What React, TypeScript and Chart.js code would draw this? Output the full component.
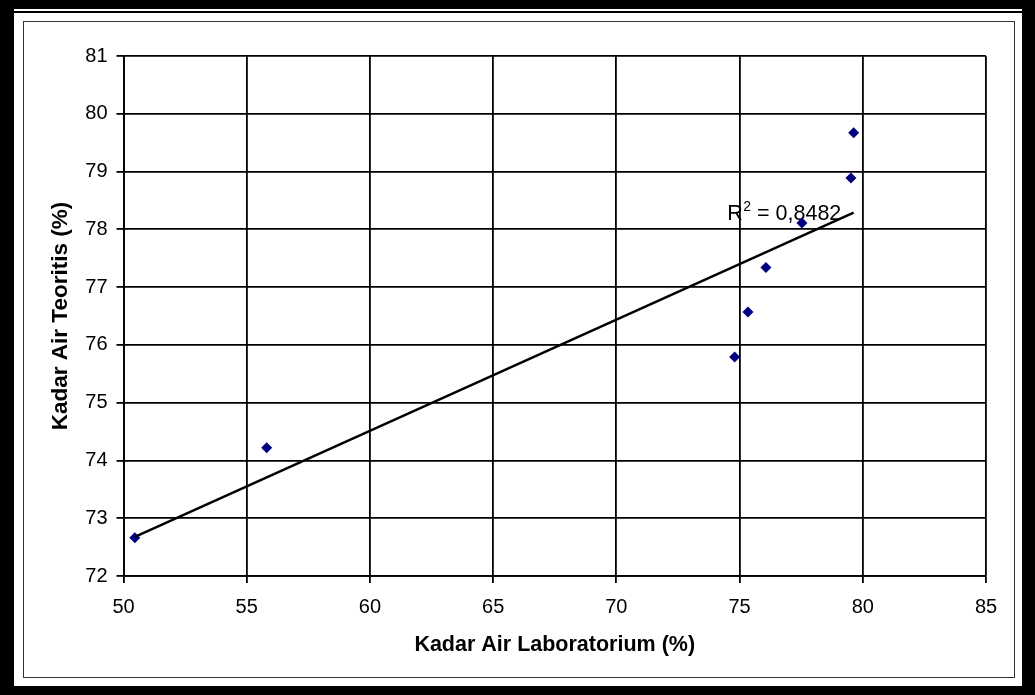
import React, { useEffect, useRef } from "react";
import { Chart, registerables } from "chart.js";

Chart.register(...registerables);

// ---- data ----
const kadarLab = [50.46, 55.81, 74.8, 75.34, 76.07, 77.53, 79.52, 79.63];
const kadarTeoritis = [72.66, 74.22, 75.79, 76.57, 77.34, 78.11, 78.89, 79.67];
const xTickValues = [50, 55, 60, 65, 70, 75, 80, 85];
const yTickValues = [72, 73, 74, 75, 76, 77, 78, 79, 80, 81];
const xAxisTitle = "Kadar Air Laboratorium (%)";
const yAxisTitle = "Kadar Air Teoritis (%)";
const r2Value = "0,8482";

const FONT = "'Liberation Sans', Arial, Helvetica, sans-serif";

function linearFit(xs: number[], ys: number[]) {
  const n = xs.length;
  const mx = xs.reduce((a, b) => a + b, 0) / n;
  const my = ys.reduce((a, b) => a + b, 0) / n;
  let sxy = 0, sxx = 0;
  for (let i = 0; i < n; i++) {
    sxy += (xs[i] - mx) * (ys[i] - my);
    sxx += (xs[i] - mx) * (xs[i] - mx);
  }
  const slope = sxy / sxx;
  return { slope, intercept: my - slope * mx };
}

const r2LabelPlugin = {
  id: "r2Label",
  beforeDatasetsDraw(chart: any) {
    const { ctx, scales } = chart;
    const x = scales.x.getPixelForValue(74.5);
    const y = scales.y.getPixelForValue(78.17);
    ctx.save();
    ctx.fillStyle = "#000";
    ctx.textBaseline = "alphabetic";
    ctx.textAlign = "left";
    ctx.font = `21.5px ${FONT}`;
    ctx.fillText("R", x, y);
    let cx = x + ctx.measureText("R").width;
    ctx.font = `14px ${FONT}`;
    ctx.fillText("2", cx + 0.5, y - 8.5);
    cx += ctx.measureText("2").width + 0.5;
    ctx.font = `21.5px ${FONT}`;
    ctx.fillText(" = " + r2Value, cx, y);
    ctx.restore();
  },
};

export default function App() {
  const ref = useRef<HTMLCanvasElement | null>(null);

  useEffect(() => {
    if (!ref.current) return;
    const { slope, intercept } = linearFit(kadarLab, kadarTeoritis);
    const minX = Math.min(...kadarLab);
    const maxX = Math.max(...kadarLab);
    const trend = [
      { x: minX, y: intercept + slope * minX },
      { x: maxX, y: intercept + slope * maxX },
    ];
    const points = kadarLab.map((x, i) => ({ x, y: kadarTeoritis[i] }));

    const chart = new Chart(ref.current, {
      type: "scatter",
      data: {
        datasets: [
          {
            label: "trend",
            data: trend,
            showLine: true,
            borderColor: "#000",
            borderWidth: 2.5,
            pointRadius: 0,
            pointHoverRadius: 0,
          },
          {
            label: "data",
            data: points,
            pointStyle: "rectRot",
            pointRadius: 5.5,
            pointBackgroundColor: "#000080",
            pointBorderColor: "#000080",
            pointBorderWidth: 0,
            showLine: false,
          },
        ],
      },
      options: {
        responsive: false,
        animation: false,
        events: [],
        layout: { padding: { left: 0, top: 56, right: 49, bottom: 0 } },
        plugins: {
          legend: { display: false },
          tooltip: { enabled: false },
        },
        scales: {
          x: {
            type: "linear",
            min: 50,
            max: 85,
            afterBuildTicks: (s: any) => {
              s.ticks = xTickValues.map((v) => ({ value: v }));
            },
            afterFit: (s: any) => {
              s.height = 119;
            },
            grid: { color: "#000", lineWidth: 1.8, tickLength: 7, tickColor: "#000" },
            border: { display: true, color: "#000", width: 1.8 },
            ticks: {
              color: "#000",
              padding: 12.5,
              maxRotation: 0,
              font: { family: FONT, size: 20 },
            },
            title: {
              display: true,
              text: xAxisTitle,
              color: "#000",
              font: { family: FONT, size: 21.5, weight: "bold" },
              padding: { top: 0, bottom: 37.4 },
            },
          },
          y: {
            type: "linear",
            min: 72,
            max: 81,
            afterBuildTicks: (s: any) => {
              s.ticks = yTickValues.map((v) => ({ value: v }));
            },
            afterFit: (s: any) => {
              s.width = 123.5;
            },
            grid: { color: "#000", lineWidth: 1.8, tickLength: 7, tickColor: "#000" },
            border: { display: true, color: "#000", width: 1.8 },
            ticks: {
              color: "#000",
              padding: 9,
              font: { family: FONT, size: 20 },
            },
            title: {
              display: true,
              text: yAxisTitle,
              color: "#000",
              font: { family: FONT, size: 22.5, weight: "bold" },
              padding: { top: 47.5, bottom: 0 },
            },
          },
        },
      },
      plugins: [r2LabelPlugin],
    } as any);
    return () => chart.destroy();
  }, []);

  return (
    <div
      style={{
        position: "fixed",
        left: 0,
        top: 0,
        width: 1035,
        height: 695,
        background: "#000",
        overflow: "hidden",
      }}
    >
      <div
        style={{
          position: "absolute",
          left: 14,
          top: 9,
          width: 1008,
          height: 2,
          background: "#fff",
        }}
      />
      <div
        style={{
          position: "absolute",
          left: 14,
          top: 13,
          width: 1008,
          height: 673,
          background: "#fff",
        }}
      />
      <div
        style={{
          position: "absolute",
          left: 23,
          top: 21,
          width: 992,
          height: 657,
          border: "1px solid #333",
          boxSizing: "border-box",
        }}
      />
      <canvas
        ref={ref}
        width={1035}
        height={695}
        style={{ position: "absolute", left: 0, top: 0, width: 1035, height: 695 }}
      />
    </div>
  );
}
